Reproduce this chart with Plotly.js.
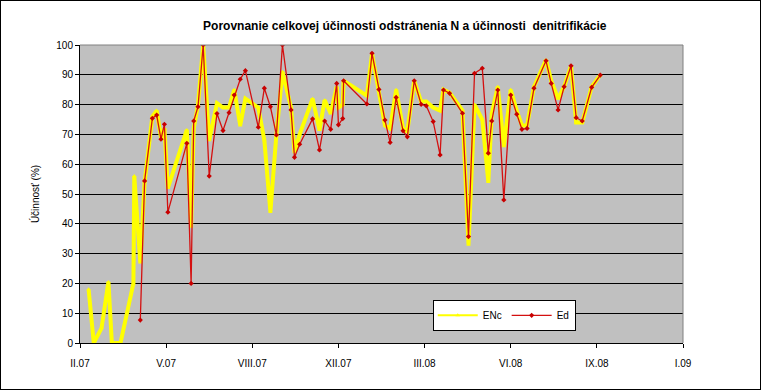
<!DOCTYPE html>
<html>
<head>
<meta charset="utf-8">
<script src="https://cdn.plot.ly/plotly-3.0.1.min.js"></script>
<style>
html,body{margin:0;padding:0;background:#fff;}
#wrap{width:761px;height:390px;box-sizing:border-box;border:1px solid #000;overflow:hidden;}
#chart{width:759px;height:388px;}
</style>
</head>
<body>
<div id="wrap"><div id="chart"></div></div>
<script>
const dates = [
'2007-02-15','2007-02-21','2007-03-02','2007-03-10','2007-03-14','2007-03-24','2007-04-08','2007-04-09',
'2007-04-16','2007-04-21','2007-04-30','2007-05-05','2007-05-10','2007-05-14','2007-05-18','2007-06-09',
'2007-06-14','2007-06-17','2007-06-22','2007-06-28','2007-07-05','2007-07-14','2007-07-21','2007-07-28',
'2007-08-03','2007-08-10','2007-08-16','2007-08-31','2007-09-07','2007-09-14','2007-09-21','2007-09-28',
'2007-10-08','2007-10-12','2007-10-18','2007-11-02','2007-11-10','2007-11-16','2007-11-23','2007-11-30',
'2007-12-02','2007-12-07','2007-12-08','2008-01-04','2008-01-10','2008-01-18','2008-01-25','2008-01-31',
'2008-02-07','2008-02-15','2008-02-20','2008-02-28','2008-03-07','2008-03-13','2008-03-21','2008-03-29',
'2008-04-02','2008-04-09','2008-04-24','2008-05-01','2008-05-08','2008-05-17','2008-05-24','2008-05-28',
'2008-06-04','2008-06-11','2008-06-19','2008-06-26','2008-07-02','2008-07-08','2008-07-16','2008-07-30',
'2008-08-05','2008-08-13','2008-08-20','2008-08-28','2008-09-03','2008-09-10','2008-09-21','2008-10-01'];

const ENc = [
18,0,5,20.5,0,0,20,56,
27,54,76,78,69,72,52,71.5,
39,72,80,100,68,80.5,79,79,
85,73,82,79,68,44,70,91,
79,64,70,82,71.5,81.5,77,86,
79,80,88,83,97,85,73,72,
85,72,71,88,81,81,79,78,
85,84,78,33,80,75,54,77,
86,66,85,78,73,73,86,95,
88,82,86,93,74,74,86,90];

const Ed = [
null,null,null,null,null,null,null,null,
7.7,54.4,75.4,76.5,68.4,73.4,43.9,67,
20,74.5,79.3,100,56,77,71.3,77.3,
83.2,88.5,91.4,72.4,85.5,79.3,69.8,100,
78.2,62.3,66.7,75.2,64.8,74.5,71.7,87.1,
73.2,75.3,88,80.2,97.2,85.1,74.8,67.3,
82.4,71.2,69.2,88,80.1,79.6,74.3,63.1,
84.9,83.8,77.1,35.7,90.5,92.2,63.7,74.5,
84.9,48,83.2,76.8,71.7,72,85.5,94.7,
87.1,78.2,86,93,75.6,74.5,85.8,89.9];

const tickDates = ['2007-02-05','2007-05-16','2007-08-24','2007-12-02','2008-03-11','2008-06-19','2008-09-27','2009-01-05'];
const tickLabels = ['II.07','V.07','VIII.07','XII.07','III.08','VI.08','IX.08','I.09'];
const yTicks = [0,10,20,30,40,50,60,70,80,90,100];

const FONT = 'Liberation Sans, Arial, sans-serif';

const traces = [
  {
    x: dates, y: ENc, name: 'ENc', type: 'scatter', mode: 'lines+markers',
    line: {color: '#FFFF00', width: 4},
    marker: {color: '#FFFF00', size: 4, symbol: 'triangle-up'},
    connectgaps: true, showlegend: false, legendgroup: 'enc'
  },
  {
    x: dates, y: Ed, name: 'Ed', type: 'scatter', mode: 'lines+markers',
    line: {color: '#D41010', width: 1.3},
    marker: {color: '#C80000', size: 4, symbol: 'diamond'},
    connectgaps: true, showlegend: false, legendgroup: 'ed'
  },
  {
    x: [null], y: [null], name: 'ENc', type: 'scatter', mode: 'lines+markers',
    line: {color: '#FFFF00', width: 2},
    marker: {color: '#FFFF00', size: 4, symbol: 'triangle-up'},
    legendgroup: 'enc', hoverinfo: 'skip'
  },
  {
    x: [null], y: [null], name: 'Ed', type: 'scatter', mode: 'lines+markers',
    line: {color: '#D41010', width: 1.3},
    marker: {color: '#C80000', size: 4, symbol: 'diamond'},
    legendgroup: 'ed', hoverinfo: 'skip'
  }
];

const layout = {
  width: 759, height: 388,
  margin: {l: 79, r: 77, t: 44, b: 46},
  paper_bgcolor: '#FFFFFF',
  plot_bgcolor: '#C0C0C0',
  font: {family: FONT, size: 10, color: '#000'},
  title: {
    text: 'Porovnanie celkovej účinnosti odstránenia N a účinnosti  denitrifikácie',
    font: {family: FONT, size: 12, color: '#000', weight: 'bold'},
    x: 0.532, xanchor: 'center', y: 0.936, yanchor: 'middle'
  },
  xaxis: {
    type: 'date',
    range: ['2007-02-05', '2009-01-05'],
    tickvals: tickDates, ticktext: tickLabels,
    tickmode: 'array',
    showgrid: false, zeroline: false,
    showline: true, linecolor: '#000', linewidth: 1,
    ticks: 'outside', ticklen: 4, tickcolor: '#000',
    ticklabelstandoff: 7,
    tickfont: {family: FONT, size: 10, color: '#000'}
  },
  yaxis: {
    range: [0, 100],
    tickmode: 'array', tickvals: yTicks,
    showgrid: true, gridcolor: '#000', gridwidth: 1,
    zeroline: false,
    showline: true, linecolor: '#000', linewidth: 1,
    ticks: 'outside', ticklen: 4, tickcolor: '#000',
    tickfont: {family: FONT, size: 10, color: '#000'},
    title: {text: 'Účinnosť (%)', font: {family: FONT, size: 10, color: '#000'}, standoff: 14}
  },
  legend: {
    orientation: 'h',
    x: 0.585, y: 0.145, xanchor: 'left', yanchor: 'top',
    bgcolor: '#FFFFFF', bordercolor: '#000', borderwidth: 1,
    font: {family: FONT, size: 10, color: '#000'},
    itemwidth: 40
  },
  shapes: [
    {type: 'line', xref: 'paper', yref: 'paper', x0: 0, x1: 1, y0: 1, y1: 1, line: {color: '#808080', width: 1}},
    {type: 'line', xref: 'paper', yref: 'paper', x0: 1, x1: 1, y0: 0, y1: 1, line: {color: '#808080', width: 1}}
  ],
  showlegend: true
};

Plotly.newPlot('chart', traces, layout, {displayModeBar: false, staticPlot: true});
</script>
</body>
</html>
